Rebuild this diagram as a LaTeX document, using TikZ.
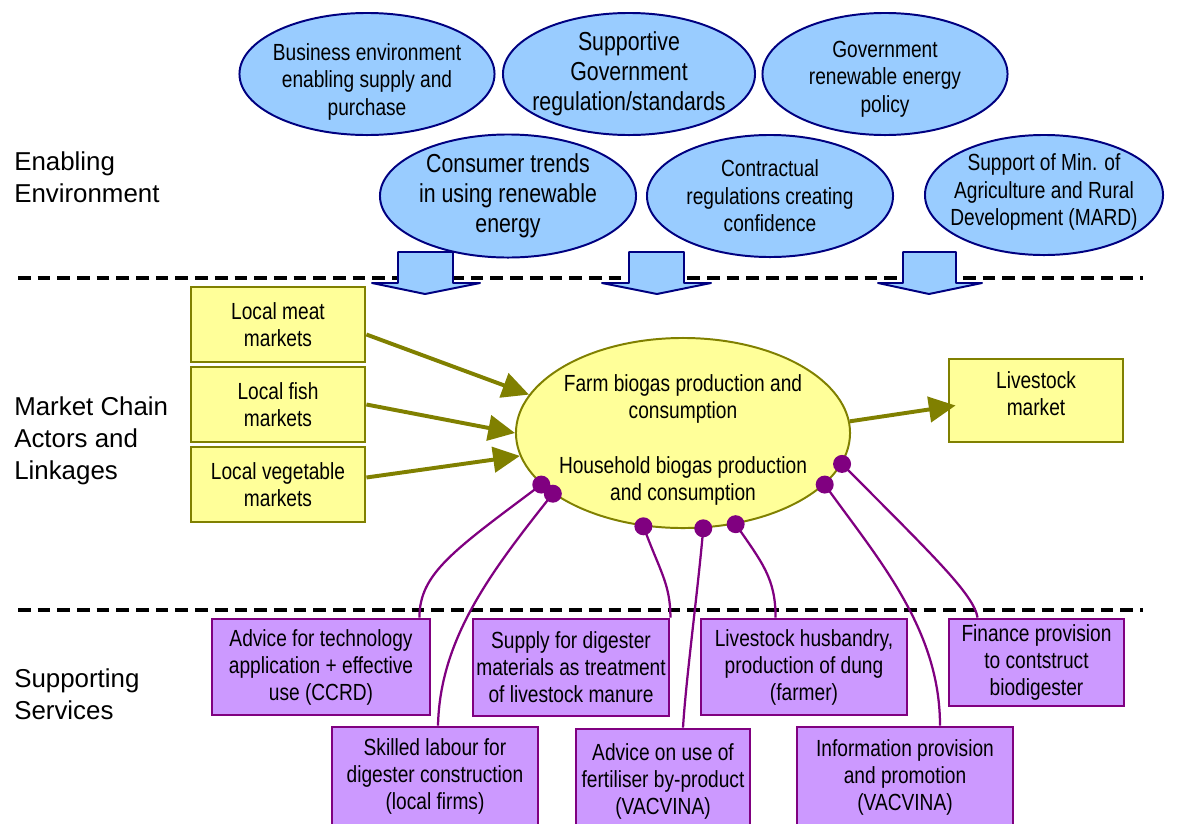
\documentclass[tikz,border=0pt]{standalone}
\usepackage{fontspec}
\setmainfont{Liberation Sans}
\newfontfamily\narrowfont{Liberation Sans}[FakeStretch=0.82]
\usetikzlibrary{shapes.geometric,arrows.meta,calc}

\definecolor{bubblefill}{HTML}{99CCFF}
\definecolor{bubbleline}{HTML}{000080}
\definecolor{marketfill}{HTML}{FFFF99}
\definecolor{marketline}{HTML}{808000}
\definecolor{servicefill}{HTML}{CC99FF}
\definecolor{serviceline}{HTML}{800080}

\tikzset{
	zone/.style={anchor=west, align=left, inner sep=0pt, font=\fontsize{18.4}{22.7}\selectfont},
	bubble/.style={ellipse, draw=bubbleline, fill=bubblefill, line width=1.4pt, inner sep=-2cm, align=center, font=\narrowfont\fontsize{16.6}{19.5}\selectfont},
	bigbubble/.style={bubble, font=\narrowfont\fontsize{18.5}{21.3}\selectfont},
	chute/.style={draw=bubbleline, fill=bubblefill, line width=1.4pt, line join=round},
	market/.style={rectangle, draw=marketline, fill=marketfill, line width=2pt, inner sep=0pt, minimum width=4.35cm, minimum height=1.875cm, align=center, font=\narrowfont\fontsize{16.6}{19.5}\selectfont},
	core/.style={ellipse, draw=marketline, fill=marketfill, line width=1.4pt, inner sep=-2cm, minimum width=8.35cm, minimum height=4.75cm, align=center, font=\narrowfont\fontsize{16.6}{19.5}\selectfont},
	service/.style={rectangle, draw=serviceline, fill=servicefill, line width=2pt, inner sep=0pt, align=center, font=\narrowfont\fontsize{16.6}{19.2}\selectfont},
	feed/.style={draw=marketline, line width=2.8pt, -{Triangle[length=19pt,width=18pt]}},
	link/.style={draw=serviceline, line width=1.6pt},
	divider/.style={line width=2.2pt, dash pattern=on 9pt off 5pt}
}

\begin{document}
\begin{tikzpicture}[x=0.025cm, y=-0.025cm]
	\useasboundingbox (0,0) rectangle (1185,823);
	\clip (0,0) rectangle (1185,823);

	% dividers
	\draw[divider] (18,278) -- (1143,278);
	\draw[divider] (18,610) -- (1143,610);

	% section titles
	\node[zone] (enabling) at (14,177) {Enabling\\Environment};
	\node[zone] (chain) at (14,441) {Market Chain\\Actors and\\Linkages};
	\node[zone] (services) at (14,694) {Supporting\\Services};

	% enabling environment
	\node[bubble, minimum width=6.375cm, minimum height=3.05cm] (business) at (367,74) {\rule{0pt}{23pt}Business environment\\enabling supply and\\purchase};
	\node[bigbubble, minimum width=6.3cm, minimum height=3.05cm] (regulation) at (629,74) {Supportive\\Government\\regulation/standards};
	\node[bubble, minimum width=6.125cm, minimum height=3.05cm] (policy) at (885,74) {\rule{0pt}{19pt}Government\\renewable energy\\policy};
	\node[bigbubble, minimum width=6.4cm, minimum height=3.075cm] (trends) at (508,196) {Consumer trends\\in using renewable\\energy};
	\node[bubble, minimum width=6.15cm, minimum height=3.05cm] (contract) at (770,196) {Contractual\\regulations creating\\confidence};
	\node[bubble, minimum width=5.95cm, minimum height=3cm] (mard) at (1044,195) {Support of Min. of\\Agriculture and Rural\\Development (MARD)\rule[-7.5pt]{0pt}{7.5pt}};

	% block arrows
	\draw[chute] (398,252) -- (453,252) -- (453,283) -- (480,283) -- (425,294) -- (372,283) -- (398,283) -- cycle;
	\draw[chute] (629,252) -- (684,252) -- (684,283) -- (711,283) -- (657,294) -- (602,283) -- (629,283) -- cycle;
	\draw[chute] (903,252) -- (956,252) -- (956,283) -- (982,283) -- (929,294) -- (878,283) -- (903,283) -- cycle;

	% market chain
	\node[market] (meat) at (278,324.5) {Local meat\\markets};
	\node[market] (fish) at (278,404.5) {Local fish\\markets};
	\node[market] (veg) at (278,484.5) {Local vegetable\\markets};
	\node[market, minimum height=2.075cm] (stock) at (1036,400.5) {Livestock\\market\rule[-10pt]{0pt}{10pt}};
	\node[core] (farm) at (683,433) {\rule{0pt}{22pt}Farm biogas production and\\consumption\\[19pt]Household biogas production\\and consumption};

	\draw[feed] ($(meat.east)+(0,10)$) -- (farm.166);
	\draw[feed] (fish.east) -- (farm.west);
	\draw[feed] ($(veg.east)+(0,-7)$) -- (farm.188);
	\draw[feed] (farm.4) -- ($(stock.west)+(8,5)$);

	% supporting services
	\node[service, minimum width=5.45cm, minimum height=2.4cm] (tech) at (321,667) {Advice for technology\\application + effective\\use (CCRD)};
	\node[service, minimum width=4.9cm, minimum height=2.425cm] (supply) at (571,667.5) {Supply for digester\\materials as treatment\\of livestock manure};
	\node[service, minimum width=5.15cm, minimum height=2.4cm] (husbandry) at (804,667) {Livestock husbandry,\\production of dung\\(farmer)};
	\node[service, minimum width=4.375cm, minimum height=2.175cm] (finance) at (1036.5,662.5) {Finance provision\\to contstruct\\biodigester};
	\node[service, minimum width=5.15cm, minimum height=2.475cm] (labour) at (435,776.5) {Skilled labour for\\digester construction\\(local firms)};
	\node[service, minimum width=4.35cm, minimum height=2.6cm] (fertiliser) at (663,781) {Advice on use of\\fertiliser by-product\\(VACVINA)};
	\node[service, minimum width=5.4cm, minimum height=2.5cm] (promotion) at (905,777) {Information provision\\and promotion\\(VACVINA)};

	% links
	\draw[link] (farm.200) .. controls +(-88,66) and +(0,-44) .. ($(tech.north east)+(-12,0)$);
	\draw[link] (farm.205) .. controls +(-62,78) and +(2,-87) .. ($(labour.north)+(3,0)$);
	\draw[link] (farm.247) .. controls +(16,44) and +(0,-34) .. (supply.north east);
	\draw[link] (farm.282) .. controls +(-5,59) and +(3,-49) .. ($(fertiliser.north)+(20,0)$);
	\draw[link] (farm.300) .. controls +(27,39) and +(0,-39) .. ($(husbandry.north west)+(76,0)$);
	\draw[link] (farm.340) .. controls +(53,74) and +(0,-97) .. ($(promotion.north)+(35,0)$);
	\draw[link] (farm.349) .. controls +(88,89) and +(-4,-24) .. ($(finance.north west)+(30,0)$);

	% link ends
	\fill[serviceline] (farm.200) circle[radius=9];
	\fill[serviceline] (farm.205) circle[radius=9];
	\fill[serviceline] (farm.247) circle[radius=9];
	\fill[serviceline] (farm.282) circle[radius=9];
	\fill[serviceline] (farm.300) circle[radius=9];
	\fill[serviceline] (farm.340) circle[radius=9];
	\fill[serviceline] (farm.349) circle[radius=9];

\end{tikzpicture}
\end{document}
